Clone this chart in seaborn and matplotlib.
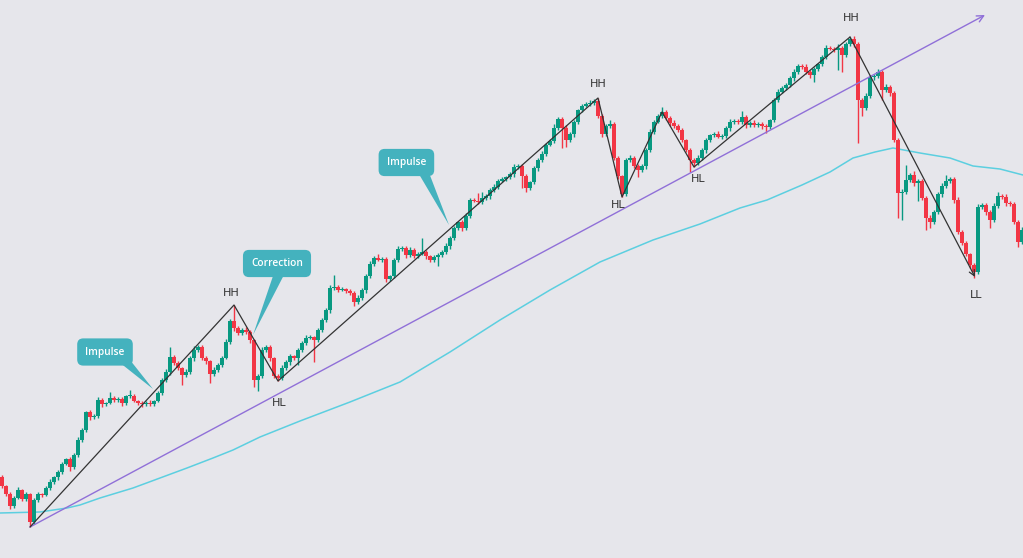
import matplotlib
matplotlib.use("Agg")
import matplotlib.pyplot as plt
import seaborn as sns
import numpy as np
import pandas as pd

# ---- data (price units, arbitrary) ----
first_open = 81
closes = [
    72, 64, 52, 60, 68, 59, 64, 36, 58, 64,
    63, 70, 76, 81, 86, 94, 99, 91, 103, 118,
    128, 146, 141, 142, 158, 154, 155, 160, 158, 159,
    155, 162, 162, 157, 155, 154, 155, 154, 157, 165,
    178, 186, 201, 195, 190, 183, 186, 200, 208, 211,
    200, 197, 184, 188, 193, 200, 216, 237, 230, 225,
    228, 226, 218, 178, 182, 208, 211, 200, 182, 180,
    190, 196, 202, 200, 208, 215, 220, 221, 218, 228,
    238, 248, 270, 271, 268, 269, 267, 265, 256, 260,
    268, 282, 294, 300, 298, 299, 279, 282, 298, 309,
    310, 303, 308, 302, 304, 306, 302, 298, 301, 303,
    306, 312, 320, 330, 336, 330, 342, 358, 357, 356,
    360, 362, 368, 371, 377, 379, 381, 384, 391, 392,
    382, 370, 376, 390, 398, 404, 413, 417, 430, 439,
    430, 418, 424, 436, 448, 452, 454, 455, 457, 442,
    424, 432, 434, 400, 382, 364, 398, 400, 392, 388,
    392, 408, 426, 436, 442, 446, 440, 435, 432, 428,
    418, 408, 398, 395, 400, 408, 418, 423, 424, 421,
    422, 430, 436, 437, 436, 441, 433, 435, 433, 434,
    432, 431, 438, 458, 466, 470, 473, 480, 486, 492,
    491, 486, 483, 489, 494, 501, 510, 509, 508, 510,
    503, 514, 519, 514, 458, 450, 462, 481, 482, 486,
    468, 471, 465, 418, 365, 366, 378, 383, 375, 377,
    360, 340, 336, 346, 364, 372, 377, 379, 358, 326,
    315, 304, 293, 286, 351, 353, 346, 338, 352, 362,
    361, 355, 354, 336, 316, 328,
]
wick_up = [
    2, 1, 2, 2, 3, 1, 2, 1, 2, 2,
    1, 2, 3, 1, 2, 2, 1, 2, 2, 3,
    2, 1, 2, 2, 3, 2, 1, 6, 2, 2,
    2, 1, 6, 2, 1, 2, 2, 3, 1, 2,
    2, 3, 10, 2, 2, 1, 3, 2, 4, 2,
    2, 2, 1, 3, 2, 2, 3, 2, 16, 2,
    2, 3, 2, 1, 2, 3, 2, 2, 1, 2,
    3, 2, 2, 1, 2, 2, 3, 2, 1, 2,
    2, 2, 3, 12, 2, 2, 1, 2, 2, 3,
    2, 2, 3, 2, 4, 2, 2, 1, 2, 3,
    2, 2, 3, 2, 2, 14, 2, 1, 2, 2,
    2, 3, 2, 2, 1, 2, 3, 2, 2, 8,
    6, 2, 2, 3, 2, 2, 1, 2, 3, 2,
    2, 2, 1, 2, 2, 3, 2, 2, 4, 2,
    2, 3, 2, 2, 1, 2, 2, 3, 2, 3,
    2, 2, 4, 2, 2, 1, 2, 3, 2, 2,
    2, 2, 3, 2, 2, 5, 2, 2, 3, 2,
    2, 1, 2, 2, 3, 2, 2, 1, 2, 3,
    2, 2, 3, 2, 2, 6, 2, 2, 3, 2,
    2, 2, 1, 2, 3, 2, 2, 2, 3, 2,
    2, 3, 2, 2, 1, 2, 3, 2, 2, 4,
    2, 2, 2, 3, 2, 2, 3, 2, 2, 3,
    2, 3, 2, 2, 2, 3, 15, 2, 4, 2,
    2, 2, 3, 2, 2, 3, 6, 2, 2, 3,
    2, 2, 1, 2, 3, 2, 2, 2, 3, 4,
    2, 3, 2, 2, 2, 3,
]
wick_dn = [
    2, 2, 3, 2, 1, 2, 2, 5, 2, 2,
    2, 1, 2, 2, 3, 2, 1, 4, 2, 2,
    2, 2, 3, 2, 2, 3, 2, 1, 2, 2,
    3, 2, 2, 1, 2, 3, 2, 2, 2, 1,
    2, 2, 3, 2, 2, 10, 2, 2, 3, 2,
    2, 3, 9, 2, 2, 2, 1, 2, 3, 2,
    2, 2, 3, 7, 11, 2, 2, 3, 2, 3,
    2, 2, 3, 2, 7, 2, 2, 1, 22, 2,
    2, 2, 3, 2, 2, 1, 2, 2, 4, 2,
    2, 3, 2, 2, 1, 2, 3, 2, 2, 2,
    2, 3, 2, 2, 2, 1, 3, 2, 2, 9,
    2, 2, 3, 2, 2, 3, 2, 2, 1, 2,
    2, 2, 3, 2, 2, 1, 2, 2, 3, 2,
    12, 4, 2, 2, 3, 2, 2, 1, 2, 2,
    20, 7, 2, 3, 2, 2, 1, 2, 2, 2,
    3, 2, 2, 2, 3, 3, 2, 2, 2, 7,
    2, 3, 2, 2, 1, 2, 2, 3, 2, 2,
    2, 2, 12, 4, 2, 2, 3, 2, 2, 1,
    2, 2, 3, 2, 2, 2, 3, 2, 2, 2,
    3, 6, 2, 2, 2, 1, 2, 2, 3, 2,
    2, 2, 3, 7, 2, 2, 2, 1, 2, 20,
    17, 2, 2, 3, 43, 8, 2, 2, 3, 2,
    10, 2, 3, 2, 25, 27, 2, 2, 3, 18,
    2, 12, 6, 2, 2, 3, 2, 2, 3, 2,
    2, 2, 3, 6, 2, 2, 3, 8, 2, 2,
    2, 3, 2, 2, 5, 2,
]

# moving average (read at a few bar positions)
ma_idx = [-0.5, 9.5, 16.25, 19.5, 24.5, 32.75, 39.5, 46.25, 52.75, 57.75,
          64.5, 74.5, 87, 99.5, 112, 124.5, 137, 149.5, 162.75, 174.5,
          184.5, 191.25, 200, 207, 212.75, 218.25, 222.75, 229.5, 237,
          242.75, 249.5, 255.25]
ma_val = [45, 46, 50, 53, 60, 70, 80, 90, 100, 108,
          121, 137, 156, 176, 206, 238, 268, 296, 318, 334,
          350, 358, 373, 386, 400, 406, 410, 405, 400,
          392, 389, 383]

# swing structure
pivot_idx = [7, 58, 69, 149, 155, 165, 173, 212, 243.25]
pivot_price = [31, 253, 177, 460, 361, 446, 391, 521, 281]
swing_labels = {1: "HH", 2: "HL", 3: "HH", 4: "HL", 6: "HL", 7: "HH", 8: "LL"}
trend_end = (245.75, 543)

callouts = ["Impulse", "Correction", "Impulse"]
callout_pos = [(25.75, 206), (68.75, 294.5), (101.1, 395.5)]
callout_tip = [(37.75, 169), (62.75, 223), (111.75, 333)]

# ---- style ----
bg = "#e6e6eb"
up_col = "#089981"
dn_col = "#f23645"
sns.set_theme(style="white", rc={"axes.facecolor": bg, "figure.facecolor": bg})
plt.rcParams["font.family"] = ["DejaVu Sans"]

fig = plt.figure(figsize=(10.23, 5.58), dpi=100)
ax = fig.add_axes([0, 0, 1, 1])

df = pd.DataFrame({"close": closes, "up": wick_up, "dn": wick_dn})
df["open"] = [first_open] + closes[:-1]
df["top"] = df[["open", "close"]].max(axis=1)
df["bot"] = df[["open", "close"]].min(axis=1)
df["high"] = df["top"] + df["up"]
df["low"] = df["bot"] - df["dn"]
df["col"] = np.where(df["close"] >= df["open"], up_col, dn_col)
x = np.arange(len(df))

ax.vlines(x, df["low"], df["high"], colors=df["col"], lw=1, zorder=2)
ax.bar(x, np.maximum(df["top"] - df["bot"], 1.2), bottom=df["bot"], width=0.82,
       color=df["col"], linewidth=0, zorder=3)

# moving average
sns.lineplot(x=ma_idx, y=ma_val, ax=ax, color="#5ccfe0", lw=1.1, sort=False, zorder=1)

# trendline
ax.annotate("", xy=trend_end, xytext=(pivot_idx[0], pivot_price[0]),
            arrowprops=dict(arrowstyle="->", color="#9070d8", lw=1,
                            mutation_scale=12, shrinkA=0, shrinkB=0), zorder=4)

# zigzag
ax.plot(pivot_idx[:-1], pivot_price[:-1], color="#333333", lw=0.9, zorder=5)
ax.annotate("", xy=(pivot_idx[-1], pivot_price[-1]),
            xytext=(pivot_idx[-2], pivot_price[-2]),
            arrowprops=dict(arrowstyle="->", color="#333333", lw=0.9,
                            mutation_scale=10, shrinkA=0, shrinkB=0), zorder=5)

label_off = {1: (-2, 9), 2: (1, -16), 3: (0, 10), 4: (-3, -6), 6: (3, -9),
             7: (1, 14), 8: (1, -13)}
for k, txt in swing_labels.items():
    ax.annotate(txt, (pivot_idx[k], pivot_price[k]), xytext=label_off[k],
                textcoords="offset points", ha="center", va="center",
                fontsize=8, color="#333333", zorder=6)

# callout bubbles
rel = [(0.85, 0.25), (0.6, 0.25), (0.85, 0.25)]
for txt, pos, tip, rp in zip(callouts, callout_pos, callout_tip, rel):
    ax.annotate(txt, xy=tip, xytext=pos, ha="center", va="center",
                fontsize=7.3, color="white", family=["Open Sans", "DejaVu Sans"],
                fontweight="semibold",
                bbox=dict(boxstyle="round,pad=0.8,rounding_size=0.6",
                          fc="#44b2be", ec="none"),
                arrowprops=dict(arrowstyle="wedge,tail_width=1.1,shrink_factor=0.5",
                                fc="#44b2be", ec="none", relpos=rp,
                                shrinkA=0, shrinkB=0, patchA=None),
                zorder=7)

ax.set_xlim(-0.5, 255.25)
ax.set_ylim(0, 558)
ax.axis("off")
fig.savefig("out.png", dpi=100, facecolor=bg)
